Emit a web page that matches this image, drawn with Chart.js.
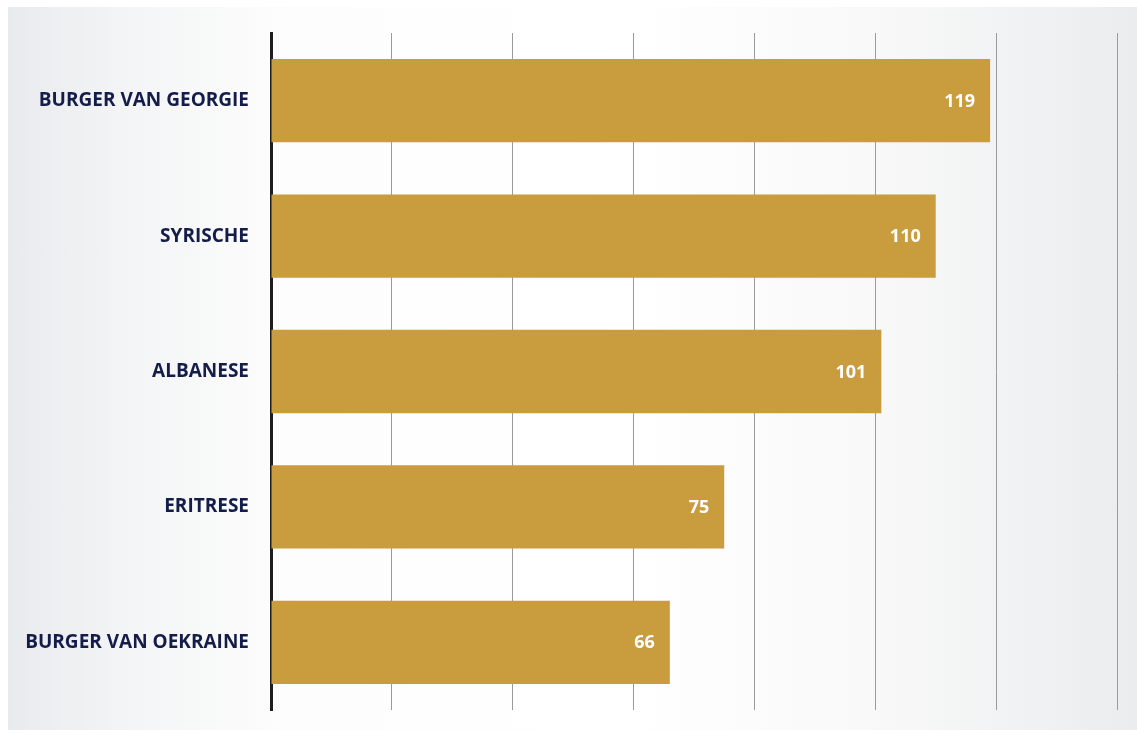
<!DOCTYPE html>
<html>
<head>
<meta charset="utf-8">
<script src="https://cdn.jsdelivr.net/npm/chart.js@4"></script>
<style>
  html, body { margin:0; padding:0; background:#ffffff; overflow:hidden; }
  #bg { position:absolute; left:8px; top:7px; width:1129px; height:723px;
        background: linear-gradient(to right, #e8eaed 0%, #f3f4f5 10%, #fdfdfd 25%, #ffffff 55%, #f8f8f8 78%, #eaecee 100%); }
  #wrap { position:absolute; left:0; top:0; width:1137px; height:730px; }
</style>
</head>
<body>
<div id="bg"></div>
<div id="wrap"><canvas id="c" width="1137" height="730"></canvas></div>
<script>
const categories = ['BURGER VAN GEORGIE', 'SYRISCHE', 'ALBANESE', 'ERITRESE', 'BURGER VAN OEKRAINE'];
const values = [119, 110, 101, 75, 66];
const xTicks = [0, 20, 40, 60, 80, 100, 120, 140];

const valueLabels = {
  id: 'valueLabels',
  afterDatasetsDraw(chart) {
    const ctx = chart.ctx;
    const meta = chart.getDatasetMeta(0);
    ctx.save();
    ctx.font = 'bold 18px "Open Sans"';
    ctx.fillStyle = '#ffffff';
    ctx.textAlign = 'right';
    ctx.textBaseline = 'middle';
    meta.data.forEach((bar, i) => {
      ctx.fillText(String(values[i]), bar.x - 15, bar.y + 1);
    });
    ctx.restore();
  }
};

new Chart(document.getElementById('c'), {
  type: 'bar',
  data: {
    labels: categories,
    datasets: [{
      data: values,
      backgroundColor: '#c99c3d',
      barPercentage: 0.615,
      categoryPercentage: 1.0
    }]
  },
  options: {
    indexAxis: 'y',
    responsive: false,
    animation: false,
    devicePixelRatio: 1,
    layout: { padding: { left: 0, right: 20, top: 33, bottom: 20 } },
    plugins: { legend: { display: false }, tooltip: { enabled: false } },
    scales: {
      x: {
        min: 0, max: 140,
        afterBuildTicks(scale) { scale.ticks = xTicks.map(v => ({ value: v })); },
        ticks: { display: false },
        grid: { color: '#9a9a9a', lineWidth: 1, drawTicks: false },
        border: { display: false },
        afterFit(scale) { scale.height = 0; scale.paddingLeft = 0; scale.paddingRight = 0; }
      },
      y: {
        ticks: {
          color: '#141c4a',
          font: { family: '"Open Sans"', weight: 'bold', size: 19 },
          padding: 22
        },
        grid: { display: false, drawTicks: false },
        border: { display: true, color: '#1e1e1e', width: 3 },
        afterFit(scale) { scale.width = 271; scale.paddingTop = 0; scale.paddingBottom = 0; }
      }
    }
  },
  plugins: [valueLabels]
});
</script>
</body>
</html>
